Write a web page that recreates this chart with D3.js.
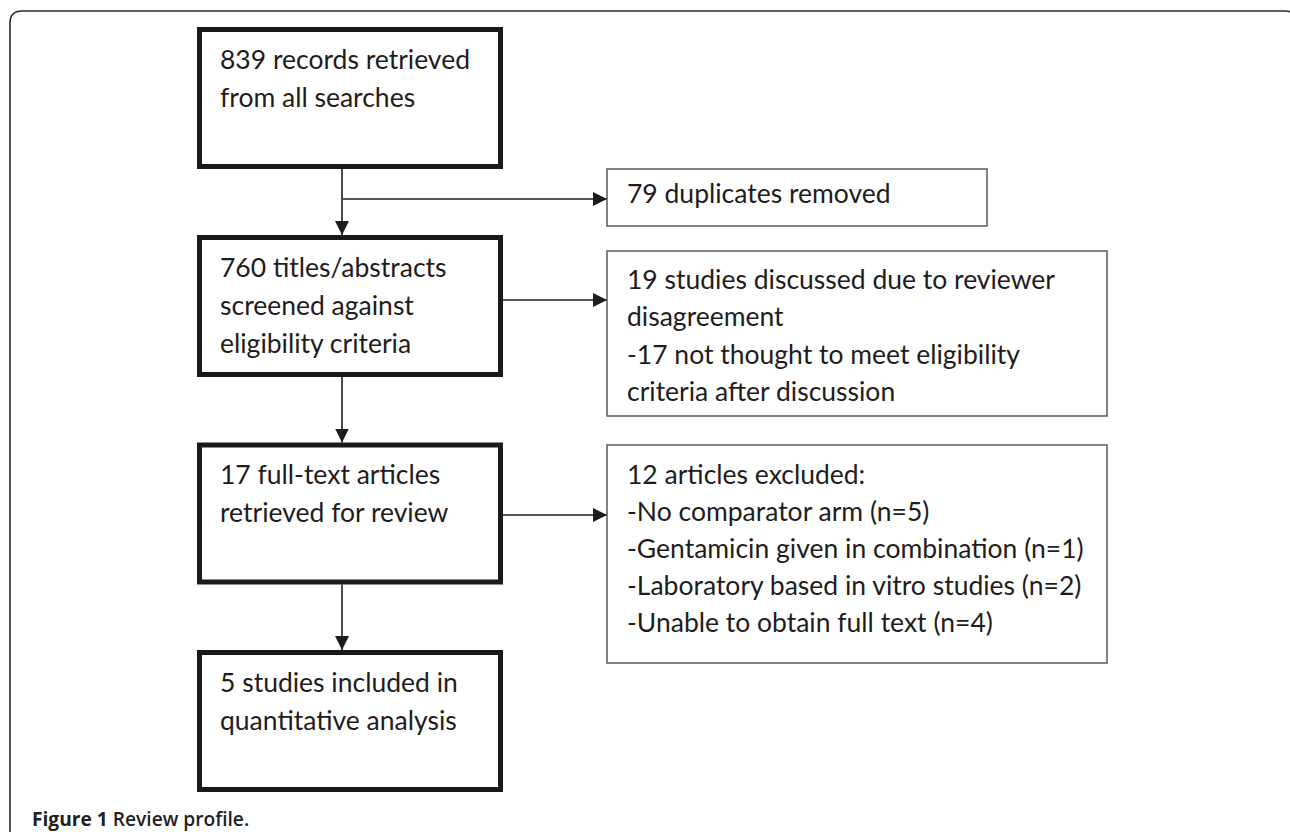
<!DOCTYPE html>
<html>
<head>
<meta charset="utf-8">
<script src="https://cdn.jsdelivr.net/npm/d3@7"></script>
<style>
  html, body { margin: 0; padding: 0; background: #fff; }
  svg { display: block; }
</style>
</head>
<body>
<svg id="chart" width="1290" height="832"></svg>
<script>
// ---- data ----
const mainLabels = [
  ["839 records retrieved", "from all searches"],
  ["760 titles/abstracts", "screened against", "eligibility criteria"],
  ["17 full-text articles", "retrieved for review"],
  ["5 studies included in", "quantitative analysis"]
];
const sideLabels = [
  ["79 duplicates removed"],
  ["19 studies discussed due to reviewer", "disagreement", "-17 not thought to meet eligibility", "criteria after discussion"],
  ["12 articles excluded:", "-No comparator arm (n=5)", "-Gentamicin given in combination (n=1)", "-Laboratory based in vitro studies (n=2)", "-Unable to obtain full text (n=4)"]
];
// where each side arrow starts: from the first connector, or from a main box
const sideSource = ["gap0", "box1", "box2"];
const captionBold = "Figure 1";
const captionText = " Review profile.";

// ---- layout ----
const FONT = "Lato, 'Open Sans', 'DejaVu Sans', sans-serif";
const svg = d3.select("#chart");

function fitSize(text, target, weight, family) {
  const t = svg.append("text").attr("font-family", family || FONT).attr("font-size", 100)
    .attr("font-weight", weight || "normal").text(text);
  const w = t.node().getComputedTextLength();
  t.remove();
  return 100 * target / w;
}
const fs = fitSize("19 studies discussed due to reviewer", 428);
const CAPFONT = "'Open Sans', Lato, sans-serif";
const capFs = fitSize("Figure 1 Review profile.", 223, "bold", CAPFONT);

const ink = "#1f1c1d";
const mainX = 199.5, mainW = 301, mainH = 137;
const mainTops = [29.5, 237.5, 445, 652.5];
const arrowX = 342;
const sideX = 607;
const sideBoxes = [
  {top: 169, bottom: 226, right: 987, arrowY: 199, base: 34, lh: 37.5},
  {top: 251, bottom: 416, right: 1107, arrowY: 300, base: 37.5, lh: 37.5},
  {top: 445, bottom: 663, right: 1107, arrowY: 515, base: 39, lh: 37}
];

const defs = svg.append("defs");
defs.append("marker").attr("id", "ah")
  .attr("viewBox", "0 0 14 14").attr("refX", 14).attr("refY", 7)
  .attr("markerWidth", 14).attr("markerHeight", 14)
  .attr("markerUnits", "userSpaceOnUse").attr("orient", "auto")
  .append("path").attr("d", "M0,0 L14,7 L0,14 Z").attr("fill", ink);

// outer frame
const fx0 = 10, fy0 = 11, fx1 = 1297, r = 12;
svg.append("path")
  .attr("d", `M${fx0},840 L${fx0},${fy0 + r} Q${fx0},${fy0} ${fx0 + r},${fy0} L${fx1 - r},${fy0} Q${fx1},${fy0} ${fx1},${fy0 + r} L${fx1},840`)
  .attr("fill", "none").attr("stroke", "#2b2b2b").attr("stroke-width", 1.6);

// vertical connectors
const gEdges = svg.append("g");
mainTops.slice(0, -1).forEach((t, i) => {
  gEdges.append("line")
    .attr("x1", arrowX).attr("y1", t + mainH + 2.5)
    .attr("x2", arrowX).attr("y2", mainTops[i + 1] - 2.5)
    .attr("stroke", ink).attr("stroke-width", 1.6)
    .attr("marker-end", "url(#ah)");
});

// horizontal connectors
sideBoxes.forEach((b, i) => {
  const x1 = sideSource[i] === "gap0" ? arrowX + 1 : mainX + mainW + 2.5;
  gEdges.append("line")
    .attr("x1", x1).attr("y1", b.arrowY)
    .attr("x2", sideX).attr("y2", b.arrowY)
    .attr("stroke", ink).attr("stroke-width", 1.6)
    .attr("marker-end", "url(#ah)");
});

// main boxes
const mg = svg.append("g").selectAll("g").data(mainLabels).join("g")
  .attr("transform", (d, i) => `translate(${mainX},${mainTops[i]})`);
mg.append("rect").attr("width", mainW).attr("height", mainH)
  .attr("fill", "#fff").attr("stroke", "#1a1a1a").attr("stroke-width", 5);
mg.each(function(lines) {
  const t = d3.select(this).append("text")
    .attr("font-family", FONT).attr("font-size", fs).attr("fill", ink);
  lines.forEach((l, j) => t.append("tspan").attr("x", 20.5).attr("y", 39 + j * 38).text(l));
});

// side boxes
const sg = svg.append("g").selectAll("g").data(sideLabels).join("g")
  .attr("transform", (d, i) => `translate(${sideX},${sideBoxes[i].top})`);
sg.append("rect")
  .attr("width", (d, i) => sideBoxes[i].right - sideX)
  .attr("height", (d, i) => sideBoxes[i].bottom - sideBoxes[i].top)
  .attr("fill", "#fff").attr("stroke", "#5a5a5a").attr("stroke-width", 1.5);
sg.each(function(lines, i) {
  const b = sideBoxes[i];
  const t = d3.select(this).append("text")
    .attr("font-family", FONT).attr("font-size", fs).attr("fill", ink);
  lines.forEach((l, j) => t.append("tspan").attr("x", 20).attr("y", b.base + j * b.lh).text(l));
});

// caption
const cap = svg.append("text").attr("x", 32).attr("y", 826)
  .attr("font-family", CAPFONT).attr("font-size", capFs).attr("fill", "#231f20");
cap.append("tspan").attr("font-weight", "bold").text(captionBold);
cap.append("tspan").attr("font-weight", "600").text(captionText);
</script>
</body>
</html>
